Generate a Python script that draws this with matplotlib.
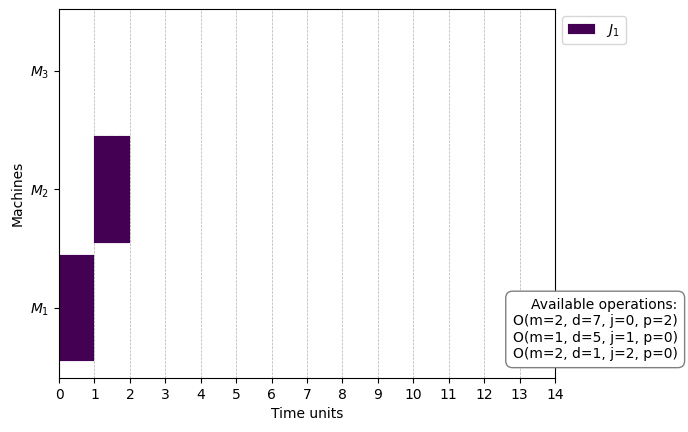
import matplotlib
matplotlib.use('Agg')
import matplotlib.pyplot as plt

machines = ['$M_1$', '$M_2$', '$M_3$']
# (machine index, start, duration)
ops = [(0, 0, 1), (1, 1, 1)]
job_label = '$J_1$'
avail = ['O(m=2, d=7, j=0, p=2)', 'O(m=1, d=5, j=1, p=0)', 'O(m=2, d=1, j=2, p=0)']

fig = plt.figure(figsize=(6.88, 4.32), dpi=100)
ax = fig.add_axes([0.0858, 0.125, 0.721, 0.854])

color = plt.cm.viridis(0.0)
for i, (m, s, d) in enumerate(ops):
    ax.barh(m, d, left=s, height=0.9, color=color, edgecolor=color,
            linestyle=':', linewidth=0.3, label=job_label if i == 0 else None)

ax.set_yticks(range(len(machines)))
ax.set_yticklabels(machines)
ax.set_ylim(-0.59, 2.52)
ax.set_xlim(0, 14)
ax.set_xticks(range(15))
ax.grid(axis='x', linestyle='--', linewidth=0.5, color='#b0b0b0')
ax.set_axisbelow(True)
ax.set_xlabel('Time units')
ax.set_ylabel('Machines')
ax.legend(loc='upper left', bbox_to_anchor=(1.0, 1.0))

ax.text(0.985, 0.165, 'Available operations:\n' + '\n'.join(avail),
        transform=fig.transFigure, ha='right', va='bottom', multialignment='right',
        bbox=dict(boxstyle='round,pad=0.5', facecolor='white', edgecolor='gray'))

fig.savefig('out.png')
